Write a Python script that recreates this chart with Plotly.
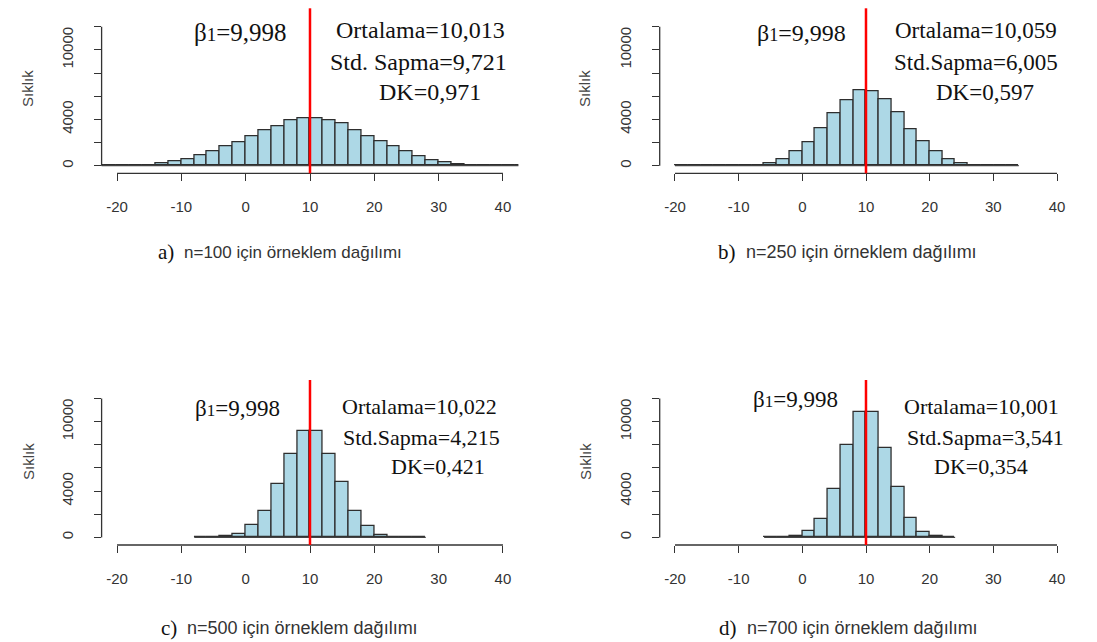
import numpy as np
import plotly.graph_objects as go

# Sampling distributions of the slope estimate (bin width 2)
beta1 = 9.998
bin_width = 2

# a) n=100 : first break and counts per bin
a_start = -24
a_counts = [0, 0, 0, 10, 60, 240, 400, 580, 860, 1220, 1700, 2030, 2520, 3050, 3400,
            3930, 4080, 4080, 3950, 3650, 3100, 2580, 2080, 1650, 1220, 840, 500,
            300, 140, 60, 10, 0, 0, 0]
# b) n=250
b_start = -20
b_counts = [0, 0, 0, 0, 0, 0, 30, 200, 520, 1220, 2030, 3220, 4500, 5650, 6550,
            6470, 5750, 4600, 3160, 2070, 1240, 520, 200, 60, 10, 0, 0]
# c) n=500
c_start = -8
c_counts = [3, 15, 80, 300, 1050, 2300, 4600, 7250, 9180, 9180, 7250, 4750, 2300,
            950, 240, 60, 12, 2]
# d) n=700
d_start = -6
d_counts = [2, 12, 100, 540, 1630, 4140, 8000, 10830, 10830, 7700, 4340, 1710,
            490, 100, 10]

letters = ["a)", "b)", "c)", "d)"]
sizes = [100, 250, 500, 700]
means = [10.013, 10.059, 10.022, 10.001]
sds = [9.721, 6.005, 4.215, 3.541]
cvs = [0.971, 0.597, 0.421, 0.354]
sd_labels = ["Std. Sapma", "Std.Sapma", "Std.Sapma", "Std.Sapma"]

x_ticks = [-20, -10, 0, 10, 20, 30, 40]
y_ticks = [0, 2000, 4000, 6000, 8000, 10000, 12000]
y_labelled = [0, 4000, 10000]

starts = [a_start, b_start, c_start, d_start]
counts_all = [a_counts, b_counts, c_counts, d_counts]

W, H = 1097, 642


def px(x):
    return x / W


def py(y):
    return 1 - y / H


# plot regions in pixels: (left, right, top, bottom)
regions = [
    (101.6, 518.4, 8.3, 173.3),
    (659.7, 1072.3, 8.3, 173.3),
    (101.6, 518.4, 380.0, 545.0),
    (659.7, 1072.3, 380.0, 545.0),
]
# text anchor positions (pixels) and sizes for each panel
beta_pos = [(240, 32), (801, 33), (237, 408), (795, 399)]
stat_pos = [
    [(420, 30), (418, 62), (430, 92)],
    [(976, 31), (976, 62), (985, 92)],
    [(419, 406), (421, 437), (438, 466)],
    [(981, 406), (985, 437), (981, 466)],
]
stat_size = [24, 23, 22, 22]
ylab_pos = [(28, 89), (585, 89), (28, 462), (585, 462)]
cap_pos = [(176, 252), (738, 252), (179, 628), (739, 628)]
cap_size = [17, 18, 18, 18]

fmt = lambda v: f"{v:.3f}".replace(".", ",")

fig = go.Figure()
annotations = []
shapes = []
layout_axes = {}

AX = "#333333"
tick_font = dict(family="Liberation Sans, Arial", size=15, color="#333333")
serif = "Liberation Serif, Times New Roman"

for i in range(4):
    sfx = "" if i == 0 else str(i + 1)
    xa, ya = "x" + sfx, "y" + sfx
    counts = np.array(counts_all[i], dtype=float)
    breaks = starts[i] + bin_width * np.arange(len(counts) + 1)
    centers = breaks[:-1] + bin_width / 2

    # baseline of the histogram over the full break range
    fig.add_trace(go.Scatter(x=[breaks[0], breaks[-1]], y=[0, 0], mode="lines",
                             line=dict(color="#444444", width=1.3),
                             xaxis=xa, yaxis=ya, showlegend=False, hoverinfo="skip"))
    fig.add_trace(go.Bar(x=centers, y=counts, width=bin_width,
                         marker=dict(color="#ADD8E6", line=dict(color="#2e2e2e", width=1.3)),
                         xaxis=xa, yaxis=ya, showlegend=False))

    l, r, t, b = regions[i]
    layout_axes["xaxis" + sfx] = dict(
        domain=[px(l), px(r)], range=[-22.4, 42.4], anchor=ya,
        showgrid=False, zeroline=False, showline=False,
        tickmode="array", tickvals=x_ticks, ticktext=[str(v) for v in x_ticks],
        ticks="outside", ticklen=7, tickwidth=1.3, tickcolor=AX,
        tickfont=tick_font, ticklabelstandoff=13,
    )
    layout_axes["yaxis" + sfx] = dict(
        domain=[py(b), py(t)], range=[-656, 13600], anchor=xa,
        showgrid=False, zeroline=False, showline=False,
        tickmode="array", tickvals=y_labelled, ticktext=[str(v) for v in y_labelled],
        ticks="outside", ticklen=7, tickwidth=1.3, tickcolor=AX,
        minor=dict(tickmode="array", tickvals=y_ticks, ticks="outside",
                   ticklen=7, tickwidth=1.3, tickcolor=AX, showgrid=False),
        tickangle=-90, tickfont=tick_font, ticklabelstandoff=15,
    )

    # R-style axis lines spanning first to last tick
    shapes.append(dict(type="line", xref=xa, yref=ya + " domain",
                       x0=x_ticks[0], x1=x_ticks[-1], y0=0, y1=0,
                       line=dict(color=AX, width=1.3)))
    shapes.append(dict(type="line", xref=xa + " domain", yref=ya,
                       x0=0, x1=0, y0=y_ticks[0], y1=y_ticks[-1],
                       line=dict(color=AX, width=1.3)))
    # true parameter value
    shapes.append(dict(type="line", xref=xa, yref=ya + " domain",
                       x0=beta1, x1=beta1, y0=0, y1=1,
                       line=dict(color="#FF0000", width=2.5)))

    fs = stat_size[i]
    tf = dict(family=serif, size=fs, color="#111111")
    bx, by = beta_pos[i]
    annotations.append(dict(x=px(bx), y=py(by), xref="paper", yref="paper",
                            text="β<span style='font-size:%dpx'>1</span>=%s" % (fs - 5, fmt(beta1)),
                            showarrow=False, font=dict(family=serif, size=fs + 1, color="#111111"),
                            xanchor="center", yanchor="middle"))
    lines = ["Ortalama=" + fmt(means[i]),
             sd_labels[i] + "=" + fmt(sds[i]),
             "DK=" + fmt(cvs[i])]
    for (sx, sy), txt in zip(stat_pos[i], lines):
        annotations.append(dict(x=px(sx), y=py(sy), xref="paper", yref="paper",
                                text=txt, showarrow=False, font=tf,
                                xanchor="center", yanchor="middle"))

    lx, ly = ylab_pos[i]
    annotations.append(dict(x=px(lx), y=py(ly), xref="paper", yref="paper",
                            text="Sıklık", textangle=-90, showarrow=False,
                            font=dict(family="Liberation Sans, Arial", size=15, color="#444444"),
                            xanchor="center", yanchor="middle"))

    cx, cy = cap_pos[i]
    annotations.append(dict(x=px(cx), y=py(cy), xref="paper", yref="paper",
                            text=letters[i], showarrow=False,
                            font=dict(family=serif, size=21, color="#111111"),
                            xanchor="right", yanchor="middle"))
    annotations.append(dict(x=px(cx + 6), y=py(cy), xref="paper", yref="paper",
                            text=f"n={sizes[i]} için örneklem dağılımı", showarrow=False,
                            font=dict(family="Liberation Sans, Arial", size=cap_size[i],
                                      color="#333333"),
                            xanchor="left", yanchor="middle"))

fig.update_layout(
    width=W, height=H,
    margin=dict(l=0, r=0, t=0, b=0),
    paper_bgcolor="white", plot_bgcolor="white",
    bargap=0, showlegend=False,
    annotations=annotations, shapes=shapes,
    **layout_axes,
)

fig.write_html("out.html")
